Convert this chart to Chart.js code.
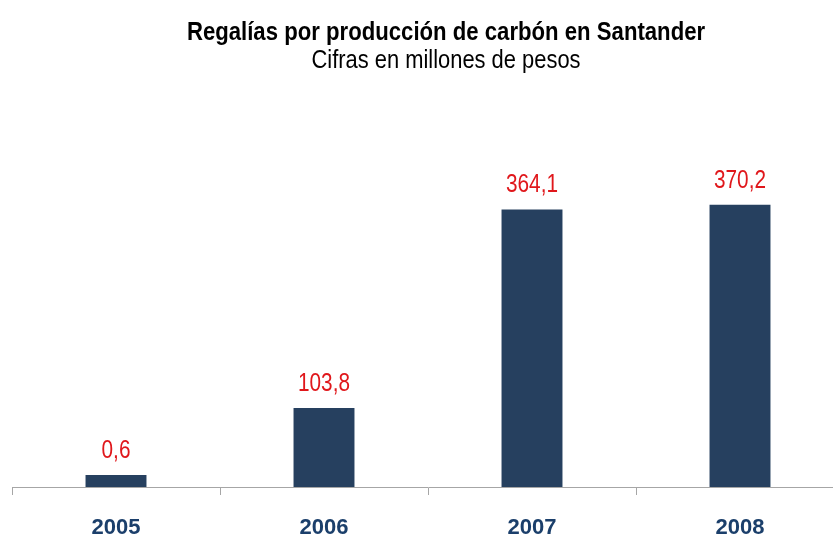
<!DOCTYPE html>
<html>
<head>
<meta charset="utf-8">
<script src="https://cdn.jsdelivr.net/npm/chart.js@4.4.1/dist/chart.umd.min.js"></script>
<style>
  html, body { margin: 0; padding: 0; background: #fff; overflow: hidden; }
  #wrap { position: absolute; left: 0; top: 0; width: 892px; height: 541px; }
</style>
</head>
<body>
<div id="wrap"><canvas id="chart" width="892" height="541"></canvas></div>
<script>
// datos del gráfico
var anios = ["2005", "2006", "2007", "2008"];
var regalias = [0.6, 103.8, 364.1, 370.2];
var etiquetas = ["0,6", "103,8", "364,1", "370,2"];
var titulo = "Regalías por producción de carbón en Santander";
var subtitulo = "Cifras en millones de pesos";

var fuente = "'Liberation Sans', Arial, sans-serif";

// texto comprimido a lo ancho (imita una fuente estrecha)
function textoEstrecho(ctx, texto, x, y, escala) {
  ctx.save();
  ctx.translate(x, y);
  ctx.scale(escala, 1);
  ctx.fillText(texto, 0, 0);
  ctx.restore();
}

// título y subtítulo centrados
var titulos = {
  id: "titulos",
  afterDraw: function(chart) {
    var ctx = chart.ctx;
    ctx.save();
    ctx.fillStyle = "#000";
    ctx.textAlign = "center";
    ctx.textBaseline = "alphabetic";
    ctx.font = "bold 26px " + fuente;
    textoEstrecho(ctx, titulo, 446, 40, 0.852);
    ctx.font = "25px " + fuente;
    textoEstrecho(ctx, subtitulo, 446, 68, 0.876);
    ctx.restore();
  }
};

// etiquetas rojas encima de cada barra
var etiquetasBarras = {
  id: "etiquetasBarras",
  afterDatasetsDraw: function(chart) {
    var ctx = chart.ctx;
    var meta = chart.getDatasetMeta(0);
    ctx.save();
    ctx.font = "26px " + fuente;
    ctx.fillStyle = "#E0171B";
    ctx.textAlign = "center";
    ctx.textBaseline = "alphabetic";
    meta.data.forEach(function(bar, i) {
      textoEstrecho(ctx, etiquetas[i], bar.x, bar.y - 17, 0.8);
    });
    ctx.restore();
  }
};

var chart = new Chart(document.getElementById("chart"), {
  type: "bar",
  data: {
    labels: anios,
    datasets: [{
      label: "Regalías",
      data: regalias,
      backgroundColor: "#26405F",
      borderWidth: 0,
      categoryPercentage: 1,
      barPercentage: 0.293,
      minBarLength: 12
    }]
  },
  options: {
    responsive: false,
    animation: false,
    layout: { padding: { left: 12, right: 48, top: 144, bottom: 0 } },
    plugins: {
      legend: { display: false },
      tooltip: { enabled: false },
      title: { display: false }
    },
    scales: {
      x: {
        offset: true,
        afterFit: function(scale) { scale.height = 54; },
        grid: {
          offset: true,
          drawOnChartArea: false,
          drawTicks: true,
          tickLength: 8,
          color: "#A6A6A6"
        },
        border: { display: true, color: "#A6A6A6", width: 1 },
        ticks: {
          color: "#1B3F6B",
          font: { family: fuente, size: 22, weight: "bold" },
          padding: 20,
          maxRotation: 0
        }
      },
      y: {
        display: false,
        min: 0,
        max: 450
      }
    }
  },
  plugins: [etiquetasBarras, titulos]
});
</script>
</body>
</html>
